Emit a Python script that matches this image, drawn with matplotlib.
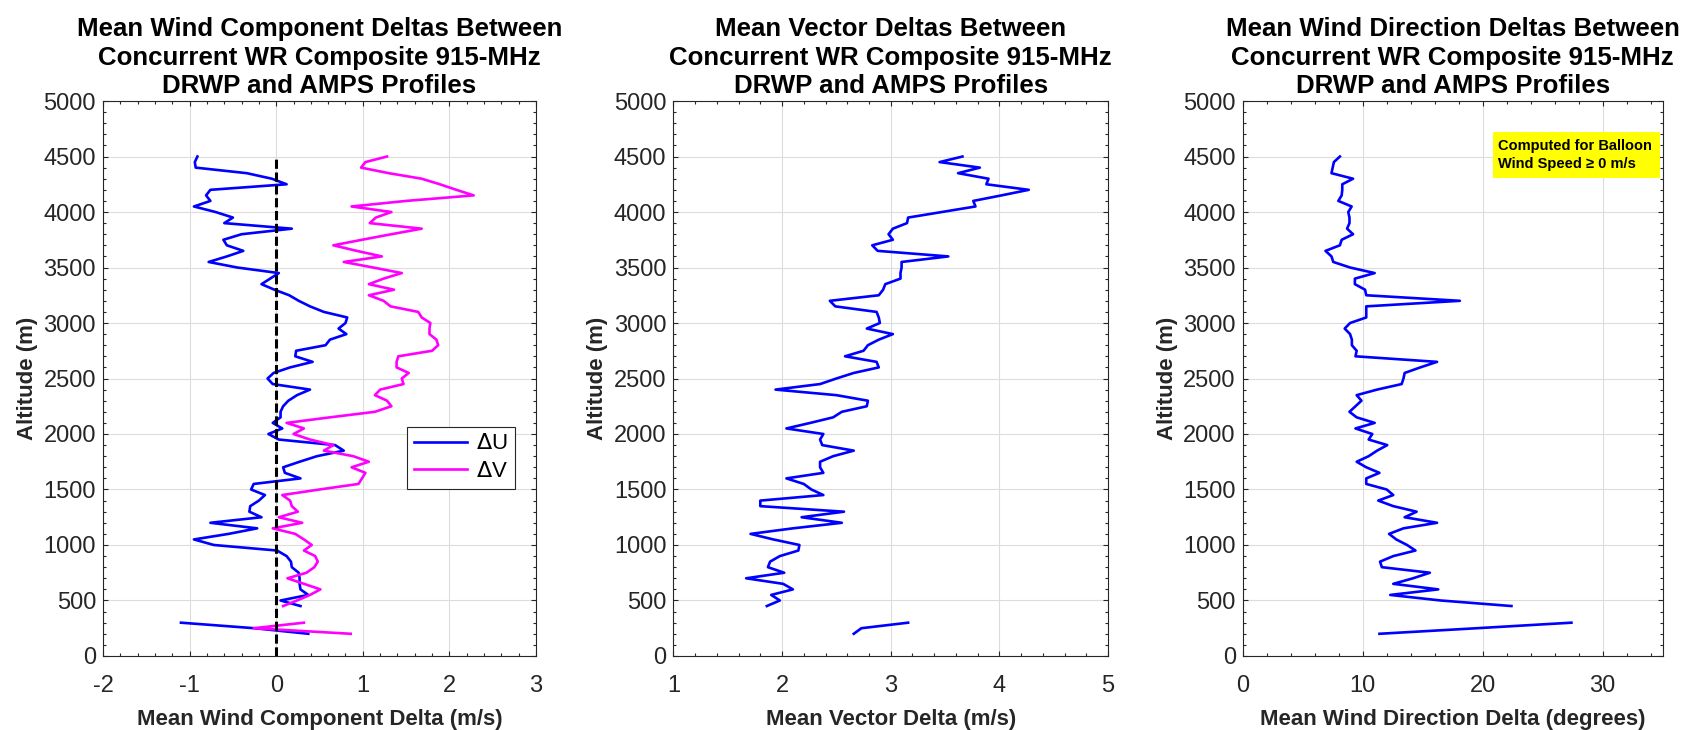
import numpy as np
import matplotlib
matplotlib.use("Agg")
import matplotlib.pyplot as plt
from matplotlib.patches import Rectangle

plt.rcParams['font.family'] = ['Liberation Sans', 'DejaVu Sans']
plt.rcParams['axes.unicode_minus'] = False

nan = np.nan

# altitude levels (m), 50 m steps, no data at 350 and 400
altitude = [200, 250, 300, 350, 400, 450, 500, 550, 600, 650, 700, 750, 800, 850,
            900, 950, 1000, 1050, 1100, 1150, 1200, 1250, 1300, 1350, 1400, 1450,
            1500, 1550, 1600, 1650, 1700, 1750, 1800, 1850, 1900, 1950, 2000, 2050,
            2100, 2150, 2200, 2250, 2300, 2350, 2400, 2450, 2500, 2550, 2600, 2650,
            2700, 2750, 2800, 2850, 2900, 2950, 3000, 3050, 3100, 3150, 3200, 3250,
            3300, 3350, 3400, 3450, 3500, 3550, 3600, 3650, 3700, 3750, 3800, 3850,
            3900, 3950, 4000, 4050, 4100, 4150, 4200, 4250, 4300, 4350, 4400, 4450,
            4500]

delta_u = [0.37, -0.25, -1.10, nan, nan, 0.28, 0.05, 0.37, 0.28, 0.27, 0.27, 0.26,
           0.18, 0.17, 0.12, 0.01, -0.72, -0.95, -0.55, -0.22, -0.76, -0.17, -0.31,
           -0.30, -0.20, -0.13, -0.29, -0.26, 0.28, 0.10, 0.08, 0.27, 0.47, 0.78,
           0.68, 0.03, -0.09, 0.07, -0.04, 0.05, 0.05, 0.08, 0.14, 0.24, 0.39, -0.04,
           -0.10, -0.03, 0.16, 0.42, 0.22, 0.23, 0.57, 0.62, 0.81, 0.72, 0.80, 0.82,
           0.55, 0.39, 0.26, 0.15, -0.02, -0.17, -0.07, 0.03, -0.45, -0.78, -0.57,
           -0.38, -0.57, -0.61, -0.40, 0.18, -0.60, -0.50, -0.70, -0.95, -0.76, -0.81,
           -0.76, 0.12, -0.05, -0.34, -0.93, -0.94, -0.91]

delta_v = [0.86, -0.26, 0.32, nan, nan, 0.08, 0.24, 0.39, 0.51, 0.32, 0.13, 0.35,
           0.44, 0.48, 0.45, 0.32, 0.41, 0.32, 0.22, -0.04, 0.30, 0.03, 0.25, 0.18,
           0.16, 0.07, 0.50, 0.95, 0.99, 1.03, 0.87, 1.07, 0.89, 0.55, 0.66, 0.39,
           0.20, 0.32, 0.12, 0.62, 1.14, 1.33, 1.28, 1.14, 1.20, 1.47, 1.45, 1.53,
           1.39, 1.39, 1.41, 1.80, 1.87, 1.85, 1.77, 1.77, 1.78, 1.68, 1.64, 1.32,
           1.24, 1.07, 1.36, 1.07, 1.24, 1.45, 1.12, 0.78, 1.22, 0.93, 0.66, 0.99,
           1.33, 1.68, 1.08, 1.15, 1.33, 0.87, 1.50, 2.28, 2.08, 1.89, 1.68, 1.30,
           0.98, 1.03, 1.28]

vector_delta = [2.66, 2.73, 3.16, nan, nan, 1.86, 1.98, 1.90, 2.10, 2.01, 1.67, 2.02,
                1.87, 1.89, 1.98, 2.15, 2.16, 1.92, 1.71, 2.10, 2.55, 2.18, 2.57, 1.80,
                1.80, 2.38, 2.27, 2.20, 2.04, 2.38, 2.35, 2.35, 2.47, 2.66, 2.37, 2.35,
                2.38, 2.04, 2.26, 2.47, 2.55, 2.78, 2.79, 2.50, 1.94, 2.35, 2.50, 2.66,
                2.89, 2.87, 2.58, 2.75, 2.79, 2.89, 3.02, 2.78, 2.90, 2.89, 2.87, 2.49,
                2.44, 2.89, 2.93, 2.95, 3.09, 3.09, 3.10, 3.10, 3.53, 2.88, 2.83, 3.02,
                2.98, 3.02, 3.15, 3.16, 3.47, 3.78, 3.76, 4.02, 4.27, 3.88, 3.90, 3.62,
                3.82, 3.45, 3.66]

direction_delta = [11.4, 19.5, 27.4, nan, nan, 22.4, 16.5, 12.3, 16.3, 12.55, 14.2,
                   15.6, 11.6, 11.45, 12.55, 14.4, 13.7, 12.8, 12.2, 13.4, 16.2, 13.5,
                   14.5, 12.55, 11.3, 12.55, 12.0, 10.3, 10.3, 11.4, 10.3, 9.5, 10.5,
                   11.2, 12.05, 10.5, 10.8, 9.4, 11.0, 9.5, 8.9, 9.4, 9.9, 9.5, 11.2,
                   13.25, 13.4, 13.5, 14.8, 16.2, 9.4, 9.5, 9.1, 9.1, 8.95, 8.5, 8.95,
                   10.3, 10.3, 10.3, 18.1, 10.3, 10.2, 9.35, 9.35, 11.0, 8.95, 7.55,
                   7.4, 6.9, 8.1, 8.25, 9.2, 8.7, 8.9, 8.9, 8.8, 9.08, 7.97, 8.25, 8.3,
                   8.3, 9.2, 7.4, 7.5, 7.6, 8.1]

subtitle = "\nConcurrent WR Composite 915-MHz\nDRWP and AMPS Profiles"
titles = ["Mean Wind Component Deltas Between" + subtitle,
          "Mean Vector Deltas Between" + subtitle,
          "Mean Wind Direction Deltas Between" + subtitle]
xlabels = ["Mean Wind Component Delta (m/s)",
           "Mean Vector Delta (m/s)",
           "Mean Wind Direction Delta (degrees)"]
note = "Computed for Balloon\nWind Speed \u2265 0 m/s"

GREY = '#262626'


def style_axis(ax, xlim, xstep, xminor, title, xlabel):
    ax.set_xlim(*xlim)
    ax.set_ylim(0, 5000)
    ax.set_xticks(np.arange(xlim[0], xlim[1] + 0.001, xstep))
    ax.set_xticks(np.arange(xlim[0], xlim[1] + 0.001, xminor), minor=True)
    ax.set_yticks(np.arange(0, 5001, 500))
    ax.set_yticks(np.arange(0, 5001, 100), minor=True)
    ax.tick_params(which='both', direction='in', top=True, right=True,
                   colors=GREY, labelsize=17, width=0.8)
    ax.tick_params(which='major', length=3.5)
    ax.tick_params(which='minor', length=2)
    ax.tick_params(axis='x', which='major', pad=14)
    ax.tick_params(axis='y', which='major', pad=5)
    ax.grid(True, which='major', color='#dcdcdc', linewidth=0.8)
    ax.set_axisbelow(True)
    for s in ax.spines.values():
        s.set_color(GREY)
        s.set_linewidth(0.8)
    ax.set_title(title, fontsize=18.6, fontweight='bold', color='black',
                 pad=5.5, linespacing=1.25)
    ax.set_xlabel(xlabel, fontsize=16, fontweight='bold', color=GREY, labelpad=8)
    ax.set_ylabel("Altitude (m)", fontsize=16, fontweight='bold', color=GREY, labelpad=4)


fig = plt.figure(figsize=(17, 7.3), dpi=100)
bottom, height = 0.1014, 0.7602
ax1 = fig.add_axes([0.0606, bottom, 0.2547, height])
ax2 = fig.add_axes([0.3961, bottom, 0.2557, height])
ax3 = fig.add_axes([0.7310, bottom, 0.2470, height])

# panel 1: wind components
ax1.plot(delta_u, altitude, color='blue', linewidth=1.9, label=r'$\Delta$U')
ax1.plot(delta_v, altitude, color='magenta', linewidth=1.9, label=r'$\Delta$V')
ax1.plot([0, 0], [0, 4500], color='black', linewidth=2.2, linestyle=(0, (3, 1.2)))
style_axis(ax1, (-2, 3), 1, 0.2, titles[0], xlabels[0])
leg = ax1.legend(loc='upper right', bbox_to_anchor=(0.951, 0.413), fontsize=16,
                 frameon=True, fancybox=False, framealpha=1, edgecolor=GREY,
                 handlelength=2.4, borderpad=0.3, labelspacing=0.3, handletextpad=0.4,
                 borderaxespad=0)
leg.get_frame().set_linewidth(0.8)

# panel 2: vector delta
ax2.plot(vector_delta, altitude, color='blue', linewidth=1.9)
style_axis(ax2, (1, 5), 1, 0.2, titles[1], xlabels[1])

# panel 3: direction delta
ax3.plot(direction_delta, altitude, color='blue', linewidth=1.9)
style_axis(ax3, (0, 35), 10, 2, titles[2], xlabels[2])
ax3.set_xticks([0, 10, 20, 30])
ax3.set_xticks(np.arange(0, 35.01, 2), minor=True)
ax3.add_patch(Rectangle((20.85, 4307), 13.95, 416, facecolor='yellow',
                        edgecolor='none', zorder=3))
ax3.text(21.3, 4515, note, fontsize=10.5, fontweight='bold', ha='left', va='center',
         linespacing=1.35, zorder=4)

fig.savefig("out.png", dpi=100)
